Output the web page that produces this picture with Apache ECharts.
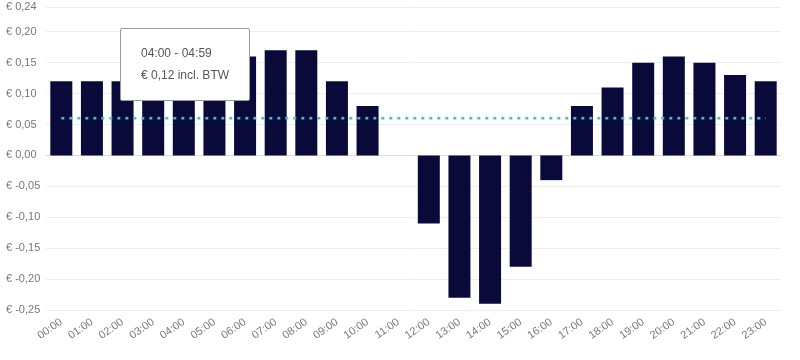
<!DOCTYPE html>
<html>
<head>
<meta charset="utf-8">
<script src="https://cdn.jsdelivr.net/npm/echarts@6/dist/echarts.min.js"></script>
<style>
html,body{margin:0;padding:0;background:#fff;}
#c{width:800px;height:360px;}
</style>
</head>
<body>
<div id="c"></div>
<script>
const hours = ['00:00','01:00','02:00','03:00','04:00','05:00','06:00','07:00','08:00','09:00','10:00','11:00','12:00','13:00','14:00','15:00','16:00','17:00','18:00','19:00','20:00','21:00','22:00','23:00'];
const prices = [0.12,0.12,0.12,0.12,0.12,0.14,0.16,0.17,0.17,0.12,0.08,0,-0.11,-0.23,-0.24,-0.18,-0.04,0.08,0.11,0.15,0.16,0.15,0.13,0.12];
const average = [0.06,0.06,0.06,0.06,0.06,0.06,0.06,0.06,0.06,0.06,0.06,0.06,0.06,0.06,0.06,0.06,0.06,0.06,0.06,0.06,0.06,0.06,0.06,0.06];
const yMin = -0.25, yMax = 0.24, yStep = 0.05;

function eur(v){ return '€ ' + v.toFixed(2).replace('.', ','); }
function endHour(h){ return h.slice(0,2) + ':59'; }

const chart = echarts.init(document.getElementById('c'), null, {renderer:'canvas'});
chart.setOption({
  animation:false,
  textStyle:{fontFamily:'Liberation Sans, Arial, sans-serif'},
  grid:{left:46,right:19,top:7,bottom:50},
  tooltip:{
    trigger:'item',
    triggerOn:'none',
    alwaysShowContent:true,
    position:[120,28],
    backgroundColor:'#fff',
    borderColor:'#999',
    borderWidth:1,
    padding:[13,20,14,20],
    extraCssText:'box-shadow:none;border-radius:2px;width:88px;line-height:22px;',
    textStyle:{color:'#555',fontSize:12,fontFamily:'Liberation Sans, Arial, sans-serif'},
    formatter:function(p){
      return hours[p.dataIndex] + ' - ' + endHour(hours[p.dataIndex]) + '<br>' + eur(p.value) + ' incl. BTW';
    }
  },
  xAxis:{
    type:'category',
    data:hours,
    axisLine:{show:true,onZero:true,lineStyle:{color:'#ddd'}},
    axisTick:{show:false},
    axisLabel:{rotate:35,color:'#777',fontSize:11,margin:11},
    position:'bottom'
  },
  yAxis:{
    type:'value',
    min:yMin,max:yMax,interval:yStep,
    axisLine:{show:false},
    axisTick:{show:false},
    splitLine:{lineStyle:{color:'#eeeeee'}},
    axisLabel:{color:'#777',fontSize:11,align:'left',margin:40,formatter:function(v){return eur(v);}}
  },
  series:[
    {type:'bar',data:prices,barWidth:22,itemStyle:{color:'#0a0a3a'}},
    {type:'line',data:average,symbol:'none',silent:true,tooltip:{show:false},
     lineStyle:{color:'#33c7c9',width:2.5,type:[3,5]}}
  ]
});
chart.dispatchAction({type:'showTip',seriesIndex:0,dataIndex:4});
</script>
</body>
</html>
